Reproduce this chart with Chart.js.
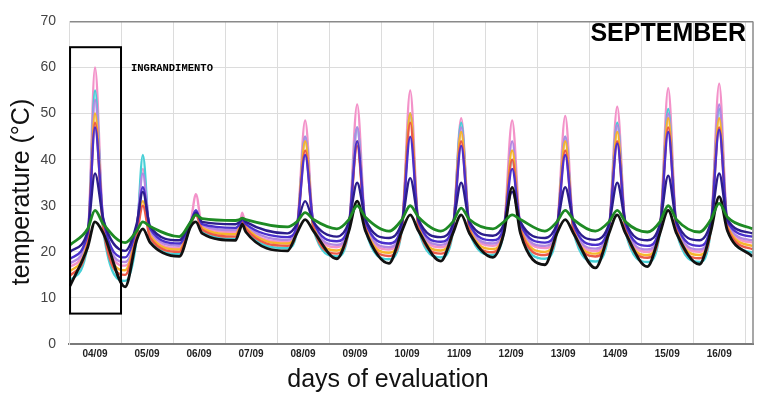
<!DOCTYPE html>
<html>
<head>
<meta charset="utf-8">
<script src="https://cdn.jsdelivr.net/npm/chart.js@4.4.1/dist/chart.umd.min.js"></script>
<style>
  html, body { margin: 0; padding: 0; background: #fff; }
  #wrap { width: 764px; height: 395px; }
</style>
</head>
<body>
<div id="wrap"><canvas id="myChart" width="764" height="395"></canvas></div>
<script>
// day labels, shown in the middle of each day
const dayLabels = ['04/09', '05/09', '06/09', '07/09', '08/09', '09/09', '10/09',
  '11/09', '12/09', '13/09', '14/09', '15/09', '16/09'];

// time of each reading, in days from 04/09 00:00 (trough, rise, peak, fall for each day)
const times = [
  0.02, 0.36, 0.50, 0.66,
  1.08, 1.30, 1.42, 1.56,
  2.12, 2.34, 2.44, 2.56,
  3.20, 3.28, 3.33, 3.40,
  4.20, 4.38, 4.54, 4.70,
  5.15, 5.38, 5.54, 5.70,
  6.15, 6.40, 6.56, 6.72,
  7.15, 7.38, 7.54, 7.70,
  8.15, 8.36, 8.52, 8.68,
  9.15, 9.38, 9.54, 9.70,
  10.12, 10.38, 10.54, 10.70,
  11.12, 11.36, 11.52, 11.68,
  12.12, 12.34, 12.50, 12.66,
  13.14
];

// temperatures (°C) for each sensor, one value per time above
const green = [
  21.5, 25, 29, 26,   22, 24.5, 26.5, 25.5,   23.3, 26.5, 28, 27.2,   26.8, 27, 27.3, 27,
  25.4, 26.5, 28.5, 27,   25, 27, 30, 27.5,   24.5, 27, 30, 27.5,   24.5, 26.5, 29.5, 27,
  25, 26.5, 28, 27,   24.5, 26.5, 29, 27,   24.5, 26.5, 29, 26.5,   24.3, 26.5, 30, 27,
  24.3, 27, 30.5, 27.5,   25
];
const navy = [
  20, 24.5, 37, 27,   20.2, 26, 33, 25.5,   22.5, 26.5, 28.5, 26.5,   26, 26.5, 27.2, 26.5,
  24, 26, 31, 26.5,   23.3, 26.5, 35, 27,   23, 26.5, 36, 27,   23.2, 26, 35, 26.5,
  23.5, 26, 33, 26.5,   23, 26, 34, 26.5,   22.6, 26, 35, 26.5,   22.5, 26, 36.5, 26.5,
  22.5, 26.5, 37, 27,   24
];
const indigo = [
  18.5, 24, 47, 27,   18.8, 25.5, 34, 25,   21.8, 26.5, 29, 26,   25.2, 26, 27, 26,
  23.2, 25.5, 41, 26.5,   22.3, 26, 44, 26.5,   21.8, 26, 45, 26.5,   22.2, 25.5, 43, 26,
  22.5, 25.5, 38, 26,   22, 25.5, 41, 26,   21.5, 25.5, 43.5, 26,   21.3, 25.5, 46, 26,
  21.3, 26, 46.5, 26.5,   23.3
];
const orchid = [
  17.5, 23.5, 53, 26.5,   17.8, 25, 37, 24.5,   21.3, 26.5, 29, 25.8,   24.7, 25.8, 27, 25.8,
  22.6, 25.2, 45, 26,   21.5, 25.5, 47, 26,   21, 25.5, 50, 26,   21.5, 25, 47, 25.5,
  21.8, 25, 44, 25.5,   21.3, 25, 45, 25.5,   20.7, 25, 47.5, 25.5,   20.5, 25, 50, 25.5,
  20.5, 25.5, 52, 26,   22.5
];
const pink = [
  16.8, 23, 60, 26,   17, 24.5, 38, 24,   20.8, 26.5, 32.5, 25.5,   24.3, 25.5, 28.5, 25.5,
  22.2, 25, 48.5, 25.8,   21, 25.5, 52, 25.8,   20.5, 25.5, 55, 25.8,   21, 25, 49, 25.3,
  21.3, 25, 48.5, 25.3,   20.8, 25, 49.5, 25.3,   20.2, 25, 51.5, 25.3,   20, 25, 55.5, 25.3,
  20, 25.5, 56.5, 25.8,   22
];
const gold = [
  15.8, 22.5, 50, 25.5,   16, 24, 31, 23.5,   20.5, 26.3, 28.5, 25.2,   23.8, 25.3, 26.8, 25.3,
  21.8, 24.8, 44, 25.5,   20.3, 25.2, 44, 25.5,   19.8, 25.2, 50, 25.5,   20.3, 24.8, 46, 25,
  20.6, 24.8, 42, 25,   20, 24.8, 44, 25,   19.6, 24.8, 46, 25,   19.3, 24.8, 49, 25,
  19.3, 25.3, 49, 25.5,   21.3
];
const red = [
  14.8, 22, 48, 25,   15, 23.5, 30, 23,   20, 26, 28, 24.8,   23.3, 25, 26.6, 25,
  21.3, 24.5, 42, 25.2,   19.6, 25, 43, 25.2,   19.1, 25, 48, 25.2,   19.6, 24.5, 44, 24.7,
  19.9, 24.5, 40, 24.7,   19.3, 24.5, 42, 24.7,   19, 24.5, 44, 24.7,   18.7, 24.5, 47, 24.7,
  18.6, 25, 47, 25.2,   20.6
];
const cyan = [
  13.8, 21.5, 55, 24.5,   13.7, 23, 41, 22.5,   19.5, 25.8, 29, 24.5,   22.8, 24.8, 27, 24.7,
  20.8, 24.2, 45, 24.8,   19, 24.8, 47, 24.8,   18.4, 24.8, 50, 24.8,   18.8, 24.2, 48, 24.3,
  19.3, 24.2, 40, 24.3,   18.5, 24.2, 45, 24.3,   17.9, 24.2, 48, 24.3,   17.8, 24.2, 51, 24.3,
  17.8, 24.8, 51, 24.8,   19.8
];
const black = [
  12.6, 21, 26.5, 24,   12.4, 22.5, 25, 22,   19, 25.5, 26.5, 24,   22.5, 24.6, 26, 24.3,
  20.2, 24, 27, 24.5,   18.5, 24.5, 31, 24.5,   17.5, 24.5, 28, 24.5,   18, 24, 28, 24,
  18.8, 24, 34, 24,   17.2, 24, 27, 24,   16.5, 24, 28, 24,   16.8, 24, 29, 24,
  17.3, 24.5, 32, 24.5,   19
];

// magnified region box (days, °C)
const zoomBox = { x0: 0.02, x1: 1.0, y0: 6.6, y1: 64.4 };

const series = [
  { name: 'green', values: green, color: '#1e8a24', width: 2.8 },
  { name: 'black', values: black, color: '#111111', width: 2.8 },
  { name: 'navy', values: navy, color: '#2c1d8c', width: 2.4 },
  { name: 'indigo', values: indigo, color: '#4b30cc', width: 2.4 },
  { name: 'red', values: red, color: '#ec5a48', width: 2.4 },
  { name: 'gold', values: gold, color: '#f6b62c', width: 2.4 },
  { name: 'orchid', values: orchid, color: '#b488e2', width: 2.4 },
  { name: 'cyan', values: cyan, color: '#46cfd6', width: 2.4 },
  { name: 'pink', values: pink, color: '#f392c9', width: 2.4 }
];

const overlay = {
  id: 'overlay',
  afterDatasetsDraw(chart) {
    const { ctx, chartArea, scales } = chart;
    const x = scales.x, y = scales.y;
    ctx.save();
    // right frame line
    ctx.strokeStyle = '#8a8a8a';
    ctx.lineWidth = 1.5;
    ctx.beginPath();
    ctx.moveTo(chartArea.right, chartArea.top);
    ctx.lineTo(chartArea.right, chartArea.bottom);
    ctx.stroke();
    // magnification box
    ctx.strokeStyle = '#000';
    ctx.lineWidth = 2;
    const bx = x.getPixelForValue(zoomBox.x0), bx2 = x.getPixelForValue(zoomBox.x1);
    const by = y.getPixelForValue(zoomBox.y1), by2 = y.getPixelForValue(zoomBox.y0);
    ctx.strokeRect(bx, by, bx2 - bx, by2 - by);
    // labels
    ctx.fillStyle = '#000';
    ctx.textBaseline = 'alphabetic';
    ctx.font = 'bold 10.5px "Liberation Mono", monospace';
    ctx.fillText('INGRANDIMENTO', bx2 + 10, y.getPixelForValue(60.2) + 4);
    ctx.font = 'bold 25px "Liberation Sans", Arial, sans-serif';
    ctx.textAlign = 'right';
    ctx.fillText('SEPTEMBER', chartArea.right - 7, 41);
    // axis titles (placed like the original, a bit off-centre)
    ctx.fillStyle = '#111';
    ctx.font = '25px "Liberation Sans", Arial, sans-serif';
    ctx.textAlign = 'center';
    ctx.textBaseline = 'middle';
    ctx.fillText('days of evaluation', 388, 380);
    ctx.translate(22, 192);
    ctx.rotate(-Math.PI / 2);
    ctx.fillText('temperature (°C)', 0, 0);
    ctx.restore();
  }
};

new Chart(document.getElementById('myChart'), {
  type: 'line',
  data: {
    datasets: series.map(s => ({
      label: s.name,
      data: times.map((t, i) => ({ x: t, y: s.values[i] })),
      borderColor: s.color,
      backgroundColor: s.color,
      borderWidth: s.width,
      pointRadius: 0,
      cubicInterpolationMode: 'monotone',
      fill: false
    }))
  },
  options: {
    responsive: false,
    animation: false,
    devicePixelRatio: 1,
    layout: { padding: { top: 16, right: 11, left: 0, bottom: 0 } },
    plugins: { legend: { display: false }, tooltip: { enabled: false } },
    scales: {
      x: {
        type: 'linear',
        min: 0,
        max: 13.15,
        afterBuildTicks: scale => {
          const ticks = [];
          for (let d = 0; d <= 13; d++) {
            ticks.push({ value: d });
            if (d < dayLabels.length) ticks.push({ value: d + 0.5 });
          }
          scale.ticks = ticks;
        },
        afterFit: scale => { scale.height = 51; },
        grid: {
          drawTicks: false,
          color: c => (c.tick && Number.isInteger(c.tick.value) && c.tick.value > 0) ? '#dcdcdc' : 'rgba(0,0,0,0)'
        },
        border: { color: '#7a7a7a', width: 2 },
        ticks: {
          autoSkip: false,
          maxRotation: 0,
          padding: 4,
          color: '#222',
          font: { family: '"Liberation Sans", Arial, sans-serif', size: 10, weight: 'bold' },
          callback: v => Number.isInteger(v) ? '' : (dayLabels[Math.floor(v)] || '')
        },
        title: { display: false }
      },
      y: {
        min: 0,
        max: 70,
        afterFit: scale => { scale.width = 69; },
        grid: {
          drawTicks: false,
          color: c => c.tick && c.tick.value === 70 ? '#8a8a8a' : '#dcdcdc',
          lineWidth: c => c.tick && c.tick.value === 70 ? 1.5 : 1
        },
        border: { color: '#dcdcdc' },
        ticks: {
          stepSize: 10,
          padding: 13,
          color: '#444',
          font: { family: '"Liberation Sans", Arial, sans-serif', size: 14 }
        },
        title: { display: false }
      }
    }
  },
  plugins: [overlay]
});
</script>
</body>
</html>
